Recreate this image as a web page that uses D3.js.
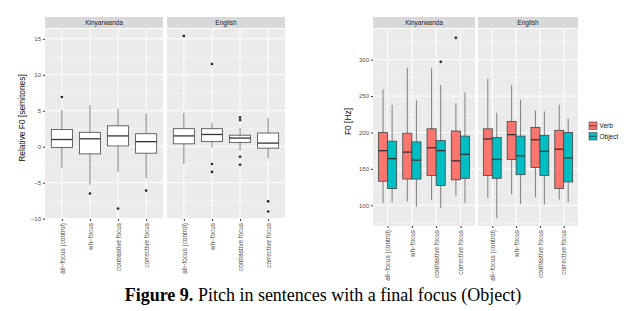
<!DOCTYPE html>
<html>
<head>
<meta charset="utf-8">
<script src="https://cdn.jsdelivr.net/npm/d3@7"></script>
<style>
  body { margin: 0; background: #fff; }
  svg { display: block; font-family: "Liberation Sans", Arial, sans-serif; }
</style>
</head>
<body>
<div id="chart"></div>
<script>
// ---- data ----
const categories = ["all\u2212focus (control)", "wh\u2212focus", "contrastive focus", "corrective focus"];
const languages = ["Kinyarwanda", "English"];
const series = ["Verb", "Object"];
const seriesColors = ["#F8766D", "#00BFC4"];

const relTicks = [-10, -5, 0, 5, 10, 15];
const f0Ticks = [100, 150, 200, 250, 300];

// box stats: [lower whisker, Q1, median, Q3, upper whisker]
const relKinyarwanda = [[-2.9, -0.1, 1.0, 2.4, 5.1], [-5.3, -1.0, 1.1, 2.0, 5.8], [-3.5, 0.1, 1.5, 2.9, 5.3], [-4.4, -0.9, 0.7, 1.8, 4.6]];
const relEnglish = [[-2.4, 0.4, 1.5, 2.5, 4.7], [-0.1, 0.7, 1.7, 2.5, 3.3], [-0.5, 0.6, 1.2, 1.6, 2.6], [-1.6, -0.2, 0.5, 1.9, 4.0]];
const relOutKinyarwanda = [[6.9], [-6.5], [-8.6], [-6.1]];
const relOutEnglish = [[15.4], [11.5, -2.4, -3.5], [4.1, 3.7, -1.4, -2.5], [-7.6, -9.0]];

const f0VerbKinyarwanda = [[103, 133, 175, 200, 259], [105, 136, 173, 199, 289], [107, 141, 179, 205, 288], [113, 135, 161, 202, 240]];
const f0ObjectKinyarwanda = [[104, 123, 164, 188, 238], [98, 136, 162, 187, 244], [96, 127, 175, 189, 265], [103, 137, 170, 195, 255]];
const f0VerbEnglish = [[110, 141, 191, 205, 274], [115, 163, 197, 215, 265], [111, 152, 190, 207, 230], [108, 123, 177, 203, 238]];
const f0ObjectEnglish = [[82, 137, 163, 193, 227], [102, 142, 168, 195, 245], [101, 141, 174, 196, 229], [104, 132, 165, 200, 219]];
const f0OutVerbKinyarwanda = [[], [], [], [330]];
const f0OutObjectKinyarwanda = [[], [], [297], []];

const width = 635, height = 311;
const svg = d3.select("#chart").append("svg")
  .attr("width", width).attr("height", height);

function drawPanel(g, opts) {
  const { x0, x1, top, bottom, y, minor, label, showY, ticks, groups } = opts;
  const stripH = 11;
  const x = d3.scalePoint().domain(categories).range([x0, x1]).padding(0.6);
  const step = x.step();

  g.append("rect").attr("x", x0).attr("y", top).attr("width", x1 - x0).attr("height", stripH).attr("fill", "#D9D9D9");
  g.append("text").attr("x", (x0 + x1) / 2).attr("y", top + 8).attr("text-anchor", "middle")
    .attr("font-size", 6.5).attr("fill", "#1A1A1A").text(label);

  const pTop = top + stripH + 1;
  g.append("rect").attr("x", x0).attr("y", pTop).attr("width", x1 - x0).attr("height", bottom - pTop).attr("fill", "#EBEBEB");

  g.selectAll(".minor").data(minor).join("line")
    .attr("x1", x0).attr("x2", x1).attr("y1", d => y(d)).attr("y2", d => y(d))
    .attr("stroke", "#F5F5F5").attr("stroke-width", 0.5);
  g.selectAll(".major").data(ticks).join("line")
    .attr("x1", x0).attr("x2", x1).attr("y1", d => y(d)).attr("y2", d => y(d))
    .attr("stroke", "#fff").attr("stroke-width", 1);
  g.selectAll(".vgrid").data(categories).join("line")
    .attr("x1", d => x(d)).attr("x2", d => x(d)).attr("y1", pTop).attr("y2", bottom)
    .attr("stroke", "#fff").attr("stroke-width", 1);

  if (showY) {
    const ax = g.append("g").attr("transform", `translate(${x0},0)`)
      .call(d3.axisLeft(y).tickValues(ticks).tickSize(2).tickPadding(2));
    ax.select(".domain").remove();
    ax.selectAll("line").attr("stroke", "#333");
    ax.selectAll("text").attr("font-size", 6).attr("fill", "#4D4D4D").attr("font-family", "Liberation Sans, Arial");
  }

  const xa = g.append("g").attr("transform", `translate(0,${bottom})`)
    .call(d3.axisBottom(x).tickSize(2).tickPadding(2));
  xa.select(".domain").remove();
  xa.selectAll("line").attr("stroke", "#333");
  xa.selectAll("text").attr("font-size", 6.4).attr("fill", "#4D4D4D").attr("font-family", "Liberation Sans, Arial")
    .attr("transform", "rotate(-90)").attr("text-anchor", "end")
    .attr("x", -4).attr("y", 0).attr("dy", "0.35em");

  groups.forEach(grp => {
    const bw = grp.width * step;
    categories.forEach((c, i) => {
      const [lw, q1, md, q3, uw] = grp.stats[i];
      const cx = x(c) + grp.offset * step;
      g.append("line").attr("x1", cx).attr("x2", cx).attr("y1", y(uw)).attr("y2", y(q3))
        .attr("stroke", "#7F7F7F").attr("stroke-width", 1);
      g.append("line").attr("x1", cx).attr("x2", cx).attr("y1", y(q1)).attr("y2", y(lw))
        .attr("stroke", "#7F7F7F").attr("stroke-width", 1);
      g.append("rect").attr("x", cx - bw / 2).attr("width", bw)
        .attr("y", y(q3)).attr("height", y(q1) - y(q3))
        .attr("fill", grp.fill).attr("stroke", "#444").attr("stroke-width", 0.8);
      g.append("line").attr("x1", cx - bw / 2).attr("x2", cx + bw / 2).attr("y1", y(md)).attr("y2", y(md))
        .attr("stroke", "#333").attr("stroke-width", 1.3);
      g.selectAll(null).data(grp.out[i]).join("circle")
        .attr("cx", cx).attr("cy", d => y(d)).attr("r", 1.3).attr("fill", "#222");
    });
  });
}

// ---- left chart: relative F0 ----
const yRel = d3.scaleLinear().domain([-10.05, 16.5]).range([219, 28]);
const left = svg.append("g");
drawPanel(left, { x0: 45, x1: 163, top: 17, bottom: 219, y: yRel, minor: [-7.5, -2.5, 2.5, 7.5, 12.5], label: languages[0], showY: true, ticks: relTicks,
  groups: [{ stats: relKinyarwanda, out: relOutKinyarwanda, offset: 0, width: 0.75, fill: "#fff" }] });
drawPanel(left, { x0: 167, x1: 285, top: 17, bottom: 219, y: yRel, minor: [-7.5, -2.5, 2.5, 7.5, 12.5], label: languages[1], showY: false, ticks: relTicks,
  groups: [{ stats: relEnglish, out: relOutEnglish, offset: 0, width: 0.75, fill: "#fff" }] });
left.append("text").attr("transform", `translate(25,${(17 + 219) / 2}) rotate(-90)`)
  .attr("text-anchor", "middle").attr("font-size", 8.4).attr("fill", "#111").text("Relative F0 [semitones]");

// ---- right chart: F0 in Hz ----
const yHz = d3.scaleLinear().domain([71.5, 343.5]).range([226, 28]);
const right = svg.append("g");
const f0Minor = [75, 125, 175, 225, 275, 325];
drawPanel(right, { x0: 373, x1: 475, top: 17, bottom: 226, y: yHz, minor: f0Minor, label: languages[0], showY: true, ticks: f0Ticks,
  groups: [
    { stats: f0VerbKinyarwanda, out: f0OutVerbKinyarwanda, offset: -0.1875, width: 0.375, fill: seriesColors[0] },
    { stats: f0ObjectKinyarwanda, out: f0OutObjectKinyarwanda, offset: 0.1875, width: 0.375, fill: seriesColors[1] }
  ] });
drawPanel(right, { x0: 478, x1: 578, top: 17, bottom: 226, y: yHz, minor: f0Minor, label: languages[1], showY: false, ticks: f0Ticks,
  groups: [
    { stats: f0VerbEnglish, out: [[], [], [], []], offset: -0.1875, width: 0.375, fill: seriesColors[0] },
    { stats: f0ObjectEnglish, out: [[], [], [], []], offset: 0.1875, width: 0.375, fill: seriesColors[1] }
  ] });
right.append("text").attr("transform", `translate(351,${(17 + 226) / 2}) rotate(-90)`)
  .attr("text-anchor", "middle").attr("font-size", 8.4).attr("fill", "#111").text("F0 [Hz]");

// legend
const legend = svg.append("g").attr("transform", "translate(589,122)");
series.forEach((s, i) => {
  const row = legend.append("g").attr("transform", `translate(0,${i * 10.5})`);
  row.append("rect").attr("width", 8).attr("height", 7.5).attr("fill", seriesColors[i]).attr("stroke", "#444").attr("stroke-width", 0.6);
  row.append("line").attr("x1", 0).attr("x2", 8).attr("y1", 3.75).attr("y2", 3.75).attr("stroke", "#333").attr("stroke-width", 0.8);
  row.append("text").attr("x", 10.5).attr("y", 6.3).attr("font-size", 6.5).attr("fill", "#111").text(s);
});

// caption
const cap = svg.append("text").attr("x", 323).attr("y", 301).attr("text-anchor", "middle")
  .attr("font-family", "Liberation Serif, 'Times New Roman', serif").attr("font-size", 18).attr("fill", "#000");
cap.append("tspan").attr("font-weight", "bold").text("Figure 9.");
cap.append("tspan").text(" Pitch in sentences with a final focus (Object)");
</script>
</body>
</html>
